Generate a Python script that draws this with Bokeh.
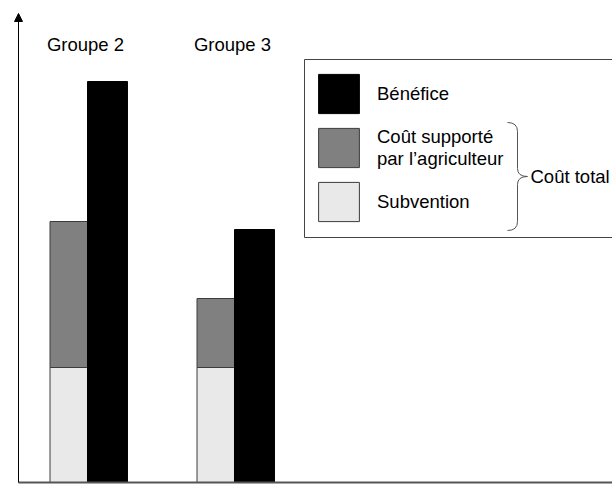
from bokeh.plotting import figure
from bokeh.models import ColumnDataSource, Range1d, Legend, LegendItem, Label, Arrow, NormalHead
from bokeh.transform import dodge
from bokeh.embed import file_html
from bokeh.resources import INLINE
from bokeh.core.properties import value

# ---- data ----
groups = ["Groupe 2", "Groupe 3"]
subvention = [115, 115]
cout_agriculteur = [146, 69]
benefice = [401, 253]
legend_labels = ["Bénéfice", "Coût supporté\npar l\u2019agriculteur", "Subvention"]
brace_label = "Coût total"

# ---- layout helpers (reference pixel -> data) ----
W, H = 612, 485
X0, X1 = -87 / 147, (612 - 87) / 147
Y0, Y1 = -3.0, 482.0


def dx(rx):
    return X0 + rx / W * (X1 - X0)


def dy(ry):
    return Y1 - ry / H * (Y1 - Y0)


FONT = "Liberation Sans"
FS = "18.5px"

p = figure(width=W, height=H, x_range=Range1d(X0, X1), y_range=Range1d(Y0, Y1),
           output_backend="svg", toolbar_location=None, min_border=0,
           x_axis_type=None, y_axis_type=None, outline_line_color=None)
p.grid.visible = False
p.background_fill_color = "white"

src = ColumnDataSource(dict(x=list(range(len(groups))), groups=groups,
                            subvention=subvention, cout=cout_agriculteur,
                            benefice=benefice))

# legend frame (drawn first, below everything)
p.quad(left=[dx(304)], right=[dx(650)], top=[dy(59)], bottom=[dy(237)],
       fill_color="white", line_color="#444444", line_width=1)

rs = p.vbar_stack(["subvention", "cout"], x=dodge("x", -0.1276, range=p.x_range),
                  width=0.255, fill_color=["#e9e9e9", "#808080"],
                  line_color="#3c3c3c", line_width=1, source=src)
rb = p.vbar(x=dodge("x", 0.136, range=p.x_range), top="benefice", width=0.272,
            fill_color="black", line_color="black", source=src)

# group labels
p.text(x=dodge("x", -2 / 147, range=p.x_range), y=dy(43.5), text="groups",
       text_align="center", text_baseline="middle",
       text_font=value(FONT), text_font_size=FS, text_color="black", source=src)

# axes
ax = dx(18)
p.segment(x0=[ax], y0=[0], x1=[X1], y1=[0], line_color="#555555", line_width=2)
p.add_layout(Arrow(x_start=ax, y_start=0, x_end=ax, y_end=dy(13),
                   line_color="black", line_width=1,
                   end=NormalHead(size=8, fill_color="black", line_color="black")))

# brace
bx, tx = 517, 507
curls = [((tx, 122), (bx, 131), (bx, 122)),
         ((bx, 168), (527, 176), (bx, 176)),
         ((527, 176), (bx, 184), (bx, 176)),
         ((bx, 221), (tx, 230), (bx, 230))]
p.quadratic(x0=[dx(a[0][0]) for a in curls], y0=[dy(a[0][1]) for a in curls],
            x1=[dx(a[1][0]) for a in curls], y1=[dy(a[1][1]) for a in curls],
            cx=[dx(a[2][0]) for a in curls], cy=[dy(a[2][1]) for a in curls],
            line_color="#555555", line_width=1)
p.segment(x0=[dx(bx), dx(bx)], y0=[dy(131), dy(184)],
          x1=[dx(bx), dx(bx)], y1=[dy(168), dy(221)],
          line_color="#555555", line_width=1)

# legend (transparent, frame drawn above)
legend = Legend(items=[LegendItem(label=legend_labels[0], renderers=[rb]),
                       LegendItem(label=legend_labels[1], renderers=[rs[1]]),
                       LegendItem(label=legend_labels[2], renderers=[rs[0]])],
                location=(313, 485 - 237 + 11), glyph_width=51, glyph_height=49, spacing=5,
                padding=10, margin=0, label_standoff=13,
                label_text_font=FONT, label_text_font_size=FS,
                label_text_line_height=1.0, label_text_color="black",
                border_line_color=None, background_fill_alpha=0.0)
p.add_layout(legend)

p.add_layout(Label(x=dx(530), y=dy(176), text=brace_label, text_baseline="middle",
                   text_font=FONT, text_font_size=FS, text_color="black"))

open("out.html", "w").write(file_html(p, INLINE))
